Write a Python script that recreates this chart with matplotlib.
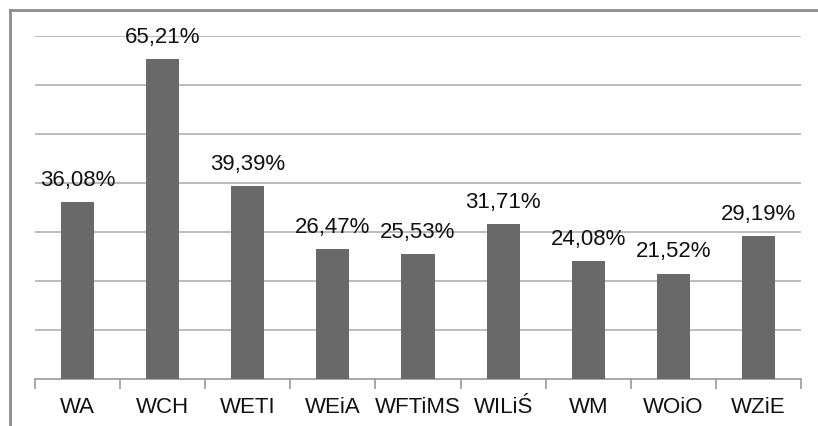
import matplotlib.pyplot as plt
from matplotlib.lines import Line2D

# Faculties and their percentages
faculties = ["WA", "WCH", "WETI", "WEiA", "WFTiMS", "WILiŚ", "WM", "WOiO", "WZiE"]
values = [36.08, 65.21, 39.39, 26.47, 25.53, 31.71, 24.08, 21.52, 29.19]

plt.rcParams['font.family'] = ['Liberation Sans', 'DejaVu Sans']

fig = plt.figure(figsize=(8.18, 4.26), dpi=100)
ax = fig.add_axes([35 / 818, 1 - 379 / 426, (801 - 35) / 818, (379 - 36) / 426])

x = range(len(faculties))
bars = ax.bar(x, values, width=0.39, color='#696969', zorder=3)

# value labels above bars
for bar, v in zip(bars, values):
    ax.annotate(f"{v:.2f}%".replace('.', ','),
                (bar.get_x() + bar.get_width() / 2, bar.get_height()),
                xytext=(0, 8), textcoords='offset points',
                ha='center', va='bottom', fontsize=16, color='#111111')

ax.set_xlim(-0.5, len(faculties) - 0.5)
ax.set_ylim(0, 70)
ax.set_yticks(range(10, 71, 10))
ax.yaxis.grid(True, color='#b0b0b0', linewidth=1.2, zorder=0)
ax.tick_params(axis='y', left=False, labelleft=False)

ax.set_xticks(list(x))
ax.set_xticklabels(faculties, fontsize=16, color='#111111')
ax.tick_params(axis='x', which='major', length=0, pad=13)
ax.set_xticks([i - 0.5 for i in range(len(faculties) + 1)], minor=True)
ax.tick_params(axis='x', which='minor', length=7, color='#999999', width=1.2)

for s in ['top', 'right', 'left']:
    ax.spines[s].set_visible(False)
ax.spines['bottom'].set_color('#999999')
ax.spines['bottom'].set_linewidth(1.2)

# outer chart frame (cut off at right and bottom)
fig.add_artist(Line2D([10 / 818, 10 / 818], [0, 1 - 10 / 426], color='#8c8c8c', linewidth=2))
fig.add_artist(Line2D([10 / 818, 1], [1 - 10 / 426, 1 - 10 / 426], color='#8c8c8c', linewidth=2))

fig.savefig("out.png", dpi=100)
